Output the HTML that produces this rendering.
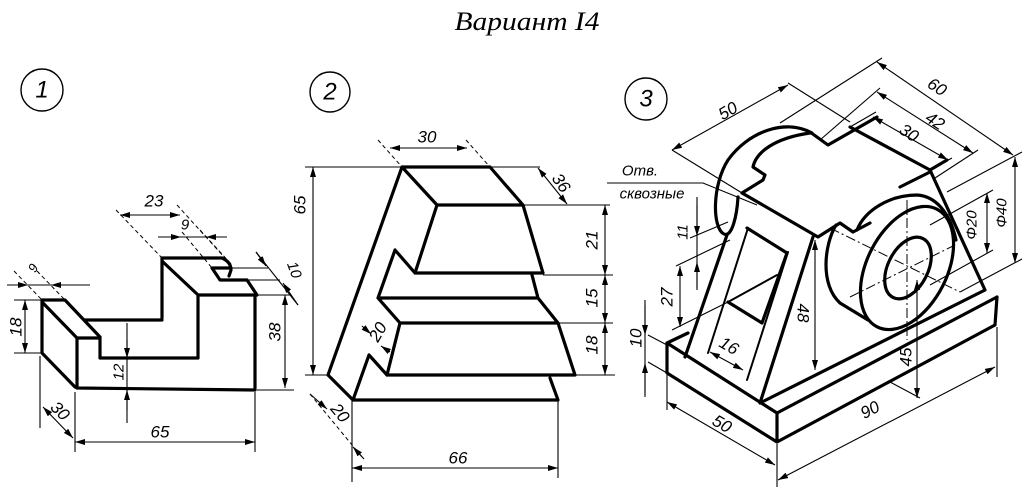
<!DOCTYPE html>
<html><head><meta charset="utf-8">
<style>
html,body{margin:0;padding:0;background:#fff;}
svg{display:block;}
.o{fill:none;stroke:#000;stroke-width:3.2;stroke-linejoin:round;stroke-linecap:round;}
.m{fill:none;stroke:#000;stroke-width:2;stroke-linecap:round;}
.d{fill:none;stroke:#000;stroke-width:1.1;}
.dm{fill:none;stroke:#000;stroke-width:1.1;marker-start:url(#a);marker-end:url(#a);}
.de{fill:none;stroke:#000;stroke-width:1.1;marker-end:url(#a);}
.ds{fill:none;stroke:#000;stroke-width:1;stroke-dasharray:4 3;}
.c{fill:none;stroke:#000;stroke-width:1;stroke-dasharray:10 3 2 3;}
.t{font-family:"Liberation Sans",sans-serif;font-style:italic;font-size:17px;fill:#000;text-anchor:middle;dominant-baseline:central;}
.n{font-family:"Liberation Sans",sans-serif;font-style:italic;font-size:24px;fill:#000;text-anchor:middle;dominant-baseline:central;}
</style></head><body>
<svg width="1036" height="498" viewBox="0 0 1036 498" xmlns="http://www.w3.org/2000/svg">
<defs>
<marker id="a" viewBox="0 0 10 6" refX="10" refY="3" markerWidth="10" markerHeight="6" markerUnits="userSpaceOnUse" orient="auto-start-reverse"><path d="M0,0 L10,3 L0,6 z"/></marker>
</defs>

<!-- Title -->
<text x="527" y="30" style="font-family:'Liberation Serif',serif;font-style:italic;font-size:26px" text-anchor="middle" textLength="145" lengthAdjust="spacingAndGlyphs">Вариант I4</text>

<!-- Circles -->
<circle cx="42" cy="90" r="21" fill="none" stroke="#000" stroke-width="1.4"/>
<text class="n" x="42" y="90">1</text>
<circle cx="330" cy="92" r="20" fill="none" stroke="#000" stroke-width="1.4"/>
<text class="n" x="330" y="92">2</text>
<circle cx="646" cy="99" r="21" fill="none" stroke="#000" stroke-width="1.4"/>
<text class="n" x="646" y="99">3</text>

<!-- ================= FIGURE 1 ================= -->
<path class="o" d="M42,300 L42,353 L75,387 M43,303 L77,338 M42,300 L65,300 L100,337
M77,338 L100,338 L100,358 L198,358 M77,338 L77,388 L255,390
M85,320 L162,320 M162,258 L162,318 M163,262 L197,294
M162,258 L222,258 Q231,262 231,270 L229,276 M212,268 L231,268
M212,268 L220,280 L247,280 L257,295 M198,295 L255,295 M198,295 L198,358 M255,295 L255,390"/>
<!-- fig1 dims -->
<path class="d" d="M7,285 L90,285"/>
<path class="de" d="M10,285 L28,285"/><path class="de" d="M72,285 L51,285"/>
<path class="ds" d="M14,271 L42,300 M37,271 L65,300"/>
<path class="dm" d="M25,300 L25,353"/>
<path class="d" d="M14,300 L42,300 M14,353 L42,353"/>
<path class="dm" d="M43,407 L73,438"/>
<path class="d" d="M40,356 L40,428 M75,392 L75,452"/>
<path class="dm" d="M75,442 L255,442"/>
<path class="d" d="M255,392 L255,452"/>
<path class="d" d="M127,323 L127,423"/>
<path class="de" d="M127,340 L127,358"/><path class="de" d="M127,410 L127,390"/>
<path class="dm" d="M285,295 L285,388"/>
<path class="d" d="M257,295 L290,295 M257,390 L294,390"/>
<path class="dm" d="M120,215 L180,215"/>
<path class="ds" d="M116,210 L162,258 M177,205 L225,258"/>
<path class="d" d="M158,237 L227,237"/>
<path class="de" d="M158,237 L181,237"/><path class="de" d="M227,237 L206,237"/>
<path class="ds" d="M182,232 L212,268 M200,230 L231,264"/>
<path class="d" d="M231,268 L268,268 M248,280 L280,280"/>
<path class="d" d="M256,252 L298,305"/>
<path class="de" d="M256,252 L266,266"/><path class="de" d="M298,305 L283,283"/>
<text class="t" x="33" y="268" transform="rotate(-60 33 268)" style="font-size:13px">9</text>
<text class="t" x="16" y="327" transform="rotate(-90 16 327)">18</text>
<text class="t" x="60" y="411" transform="rotate(45 60 411)">30</text>
<text class="t" x="160" y="432">65</text>
<text class="t" x="119" y="372" transform="rotate(-90 119 372)" style="font-size:15px">12</text>
<text class="t" x="275" y="332" transform="rotate(-90 275 332)">38</text>
<text class="t" x="154" y="201">23</text>
<text class="t" x="185" y="225" style="font-size:15px">9</text>
<text class="t" x="294" y="270" transform="rotate(70 294 270)" style="font-size:15px">10</text>

<!-- ================= FIGURE 2 ================= -->
<path class="o" d="M402,167 L328,375 L353,400 L558,400 L550,378
M402,167 L490,167 L523,205
M402,167 L437,205 L523,205 L543,273 L415,273 L437,205
M415,273 L395,250 L378,298 L538,298 L532,275
M538,298 L558,323 L400,323 L378,298
M400,323 L387,375 L575,375 L558,323
M387,375 L369,355 L353,400"/>
<!-- fig2 dims -->
<path class="dm" d="M313,167 L313,375"/>
<path class="d" d="M305,167 L540,167 M305,375 L328,375"/>
<path class="dm" d="M390,148 L467,148"/>
<path class="ds" d="M378,140 L402,167 M466,140 L490,167"/>
<path class="dm" d="M538,168 L567,204"/>
<path class="dm" d="M605,205 L605,275"/>
<path class="dm" d="M605,275 L605,323"/>
<path class="dm" d="M605,323 L605,375"/>
<path class="d" d="M523,205 L610,205 M543,275 L613,275 M558,323 L613,323 M575,375 L615,375"/>
<path class="dm" d="M352,468 L558,468"/>
<path class="d" d="M352,400 L352,482 M558,400 L558,478"/>
<path class="ds" d="M310,394 L362,457"/>
<path class="de" d="M310,394 L327,409"/><path class="de" d="M364,459 L353,447"/>
<path class="de" d="M362,326 L371,334"/><path class="de" d="M390,352 L381,346"/>
<text class="t" x="300" y="205" transform="rotate(-90 300 205)">65</text>
<text class="t" x="427" y="137">30</text>
<text class="t" x="561" y="183" transform="rotate(55 561 183)">36</text>
<text class="t" x="592" y="240" transform="rotate(-90 592 240)">21</text>
<text class="t" x="592" y="298" transform="rotate(-90 592 298)">15</text>
<text class="t" x="592" y="345" transform="rotate(-90 592 345)">18</text>
<text class="t" x="378" y="332" transform="rotate(-60 378 332)">20</text>
<text class="t" x="340" y="413" transform="rotate(50 340 413)">20</text>
<text class="t" x="458" y="458">66</text>

<!-- ================= FIGURE 3 ================= -->
<path class="o" d="M667,343 L777,413 L997,297
M667,343 L667,373 L777,442 L995,325 L997,297
M777,413 L777,442 M667,343 L688,333
M760,403 L985,290
M727,235 L685,357
M813,237 L760,403
M747,228 L787,253 L762,323 L728,302
M742,193 L818,237 L840,223 L853,232 L870,223
M738,197 C737,215 732,238 724,234 C712,228 712,185 728,160 C748,132 785,118 812,133
M742,193 L763,180 L765,175 L753,167 C756,152 775,138 810,133
M810,132 L828,145 L877,117
M850,127 L930,170 L947,160
M900,187 L930,172
M930,170 L985,290
M857,230 C865,210 890,195 917,195 C935,196 950,212 956,240
M836,225 C824,245 820,285 840,303 L868,320"/>
<ellipse cx="907" cy="268" rx="40" ry="66" transform="rotate(27 907 268)" fill="none" stroke="#000" stroke-width="3.2"/>
<ellipse cx="908" cy="268" rx="20" ry="33" transform="rotate(27 908 268)" fill="none" stroke="#000" stroke-width="3.2"/>
<path class="m" d="M748,228 L708,353 M788,252 L747,380 M728,302 L777,275"/>
<path class="c" d="M907,200 L907,340 M850,297 L955,245 M830,228 L960,292"/>
<!-- fig3 dims -->
<path class="dm" d="M877,62 L1013,155"/>
<path class="dm" d="M877,92 L973,153"/>
<path class="dm" d="M873,117 L948,160"/>
<path class="dm" d="M672,150 L788,85"/>
<path class="d" d="M672,150 L742,193 M788,83 L850,122 M780,123 L882,58 M820,140 L880,88 M850,127 L876,112 M947,192 L1022,152 M935,178 L978,150 M930,170 L952,158"/>
<path class="dm" d="M1015,157 L1015,263"/>
<path class="d" d="M960,292 L1022,259"/>
<path class="dm" d="M987,193 L987,253"/>
<path class="d" d="M930,225 L993,190 M930,285 L993,250"/>
<path class="dm" d="M815,240 L815,370"/>
<path class="dm" d="M917,280 L917,398"/>
<path class="d" d="M890,382 L920,398"/>
<path class="d" d="M697,197 L697,290"/>
<path class="de" d="M697,205 L697,236"/><path class="de" d="M697,288 L697,262"/>
<path class="d" d="M690,238 L728,222 M676,266 L730,240"/>
<path class="dm" d="M680,266 L680,327"/>
<path class="d" d="M672,330 L728,302"/>
<path class="d" d="M645,300 L645,397"/>
<path class="de" d="M645,305 L645,335"/><path class="de" d="M645,395 L645,363"/>
<path class="d" d="M648,335 L667,345 M648,362 L667,373"/>
<path class="dm" d="M710,352 L743,370"/>
<path class="dm" d="M667,402 L775,465"/>
<path class="d" d="M667,375 L667,410 M777,444 L777,487 M997,327 L997,377"/>
<path class="dm" d="M778,480 L995,367"/>
<path class="d" d="M607,183 L703,183 L757,205"/>
<text class="t" x="640" y="171" style="font-size:15px">Отв.</text>
<text class="t" x="652" y="194" style="font-size:15px">сквозные</text>
<text class="t" x="937" y="87" transform="rotate(33 937 87)">60</text>
<text class="t" x="935" y="121" transform="rotate(33 935 121)">42</text>
<text class="t" x="909" y="133" transform="rotate(33 909 133)">30</text>
<text class="t" x="728" y="111" transform="rotate(-30 728 111)">50</text>
<text class="t" x="972" y="225" transform="rotate(-90 972 225)" style="font-size:15px">Φ20</text>
<text class="t" x="1002" y="213" transform="rotate(-90 1002 213)" style="font-size:15px">Φ40</text>
<text class="t" x="803" y="313" transform="rotate(90 803 313)">48</text>
<text class="t" x="906" y="357" transform="rotate(-90 906 357)">45</text>
<text class="t" x="683" y="232" transform="rotate(-90 683 232)" style="font-size:15px">11</text>
<text class="t" x="667" y="297" transform="rotate(-90 667 297)">27</text>
<text class="t" x="636" y="338" transform="rotate(-90 636 338)">10</text>
<text class="t" x="729" y="346" transform="rotate(30 729 346)">16</text>
<text class="t" x="722" y="424" transform="rotate(30 722 424)">50</text>
<text class="t" x="870" y="410" transform="rotate(-28 870 410)">90</text>
</svg>
</body></html>
